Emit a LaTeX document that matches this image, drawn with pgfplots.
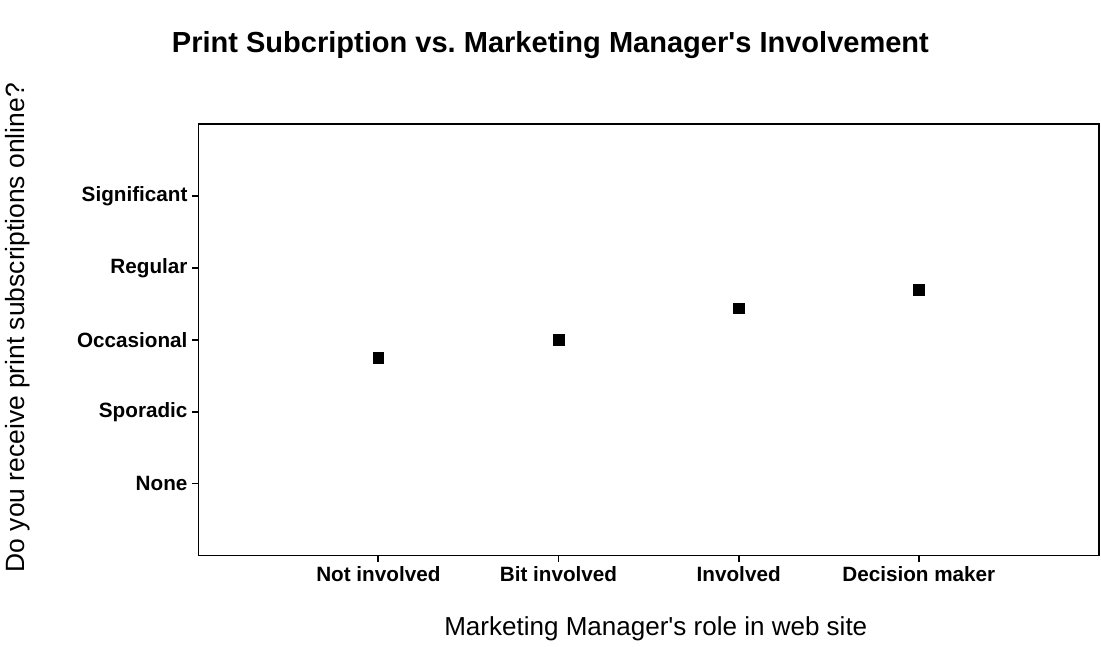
\documentclass[border=0pt]{standalone}
\usepackage{pgfplots}
\pgfplotsset{compat=1.18}
\usepackage{fontspec}
\setmainfont{Liberation Sans}
\frenchspacing

\begin{document}
\begin{tikzpicture}
\begin{axis}[
    scale only axis,
    width=675pt, height=323.25pt,
    xmin=0, xmax=5, ymin=0, ymax=6,
    xtick={1,2,3,4},
    xticklabels={Not involved, Bit involved, Involved, Decision maker},
    ytick={1,2,3,4,5},
    yticklabels={None, Sporadic, Occasional, Regular, Significant},
    xtick pos=bottom, ytick pos=left,
    tick align=outside,
    major tick length=4.5pt,
    axis line style={line width=1pt},
    every tick/.style={black, line width=1.3pt},
    tick label style={font=\fontsize{15.5}{18}\selectfont\bfseries},
    xlabel={Marketing Manager\textquotesingle s role in web site},
    ylabel={Do you receive print subscriptions online?},
    every axis x label/.style={at={(axis description cs:0.508,-0.169)}, anchor=center,
        font=\fontsize{19.5}{22}\selectfont},
    every axis y label/.style={at={(axis description cs:-0.2,0.528)}, anchor=center, rotate=90,
        font=\fontsize{19.8}{22}\selectfont},
    title={Print Subcription vs.\ Marketing Manager\textquotesingle s Involvement},
    every axis title/.style={at={(axis description cs:0.391,1.183)}, anchor=center,
        font=\fontsize{21.75}{25}\selectfont\bfseries},
]
\addplot[only marks, mark=square*, mark size=4pt, black] coordinates {
    (1,2.75) (2,3.00) (3,3.44) (4,3.70)
};
\coordinate (sw) at (rel axis cs:0,0);
\coordinate (ne) at (rel axis cs:1,1);
\end{axis}
\pgfresetboundingbox
\path[use as bounding box] ([shift={(-148.5pt,-68.25pt)}]sw) rectangle ([shift={(1.5pt,93pt)}]ne);
\end{tikzpicture}
\end{document}
